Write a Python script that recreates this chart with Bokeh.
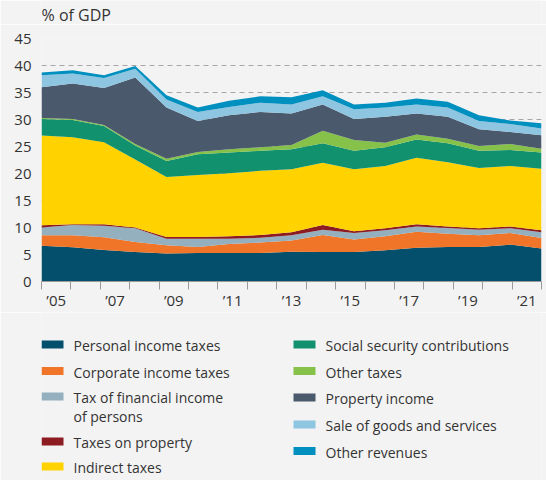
from bokeh.plotting import figure
from bokeh.models import Range1d, FixedTicker, LinearAxis, ColumnDataSource
from bokeh.layouts import column
from bokeh.embed import file_html
from bokeh.resources import INLINE
from bokeh.core.properties import value

years = list(range(2005, 2022))
tick_labels = ["\u201905", "\u201907", "\u201909", "\u201911", "\u201913", "\u201915", "\u201917", "\u201919", "\u201921"]

personal_income = [6.64, 6.33, 5.84, 5.47, 5.17, 5.29, 5.29, 5.29, 5.53, 5.47, 5.47, 5.78, 6.27, 6.40, 6.40, 6.83, 6.09]
corporate_income = [1.91, 2.22, 2.34, 1.85, 1.53, 1.11, 1.66, 1.91, 2.07, 3.13, 2.33, 2.58, 2.95, 2.46, 2.15, 2.17, 1.97]
financial_income = [1.45, 1.90, 2.15, 2.52, 1.20, 1.53, 0.98, 0.90, 0.95, 1.00, 1.18, 1.11, 0.98, 1.04, 1.05, 0.84, 1.04]
taxes_property = [0.40, 0.13, 0.25, 0.16, 0.34, 0.31, 0.43, 0.50, 0.55, 0.85, 0.32, 0.37, 0.38, 0.30, 0.24, 0.36, 0.37]
indirect_taxes = [16.66, 16.12, 15.22, 12.60, 11.13, 11.50, 11.69, 11.90, 11.70, 11.55, 11.50, 11.56, 12.32, 11.90, 11.16, 11.20, 11.43]
social_security = [3.01, 3.20, 3.00, 2.60, 2.93, 3.81, 3.85, 3.70, 3.70, 3.60, 3.40, 3.45, 3.40, 3.50, 3.20, 2.95, 3.00]
other_taxes = [0.23, 0.17, 0.17, 0.26, 0.45, 0.45, 0.60, 0.65, 0.80, 2.30, 2.00, 0.85, 0.90, 0.85, 0.90, 1.11, 0.70]
property_income = [5.68, 6.58, 6.88, 12.30, 9.45, 5.70, 6.30, 6.55, 5.80, 4.90, 3.90, 4.80, 3.90, 4.05, 3.10, 2.24, 2.50]
sale_goods = [2.22, 1.85, 1.85, 1.64, 1.50, 1.70, 1.50, 1.70, 1.70, 1.50, 1.80, 1.70, 1.70, 1.70, 1.50, 1.45, 1.25]
other_revenues = [0.50, 0.60, 0.50, 0.50, 0.80, 0.80, 1.15, 1.20, 1.30, 1.10, 0.90, 0.90, 1.10, 1.10, 1.10, 0.65, 0.95]

series_names = ["Personal income taxes", "Corporate income taxes", "Tax of financial income\nof persons",
                "Taxes on property", "Indirect taxes", "Social security contributions", "Other taxes",
                "Property income", "Sale of goods and services", "Other revenues"]
series_values = [personal_income, corporate_income, financial_income, taxes_property, indirect_taxes,
                 social_security, other_taxes, property_income, sale_goods, other_revenues]
colors = ["#044f6c", "#f07528", "#94afbe", "#8d1b22", "#ffd200", "#12916f", "#86c24a", "#4a596c", "#8ec5e1", "#0090c0"]
unit_label = "% of GDP"

BG = "#f3f3f3"
TXT = "#333333"
FONT = "Open Sans"

keys = ["s%d" % i for i in range(len(series_values))]
data = {"year": years}
for k, v in zip(keys, series_values):
    data[k] = v
src = ColumnDataSource(data)

W = 546
ML, MR = 41, 5
HH = 24          # header panel (unit label)
H1 = 288         # main chart panel
LH = 480 - HH - H1  # legend panel
YMAX = 45


def panel(height):
    f = figure(width=W, height=height, output_backend="svg", toolbar_location=None,
               x_range=Range1d(ML, W - MR), y_range=Range1d(height, 0),
               background_fill_color=BG, border_fill_color=BG, outline_line_color=None,
               min_border_left=ML, min_border_right=MR, min_border_top=0, min_border_bottom=0)
    f.axis.visible = False
    f.grid.visible = False
    return f


# header with the unit label
hd = panel(HH)
hd.text(x=[41], y=[14], text=[unit_label], text_font=value(FONT), text_font_size="16px",
        text_color=TXT, text_baseline="middle", text_align="left")

# main chart
p = figure(width=W, height=H1, output_backend="svg", toolbar_location=None,
           x_range=Range1d(years[0], years[-1]), y_range=Range1d(0, YMAX),
           x_axis_location=None, background_fill_color=BG, border_fill_color=BG,
           outline_line_color=None, min_border_left=ML, min_border_right=MR,
           min_border_top=14, min_border_bottom=30)

p.varea_stack(stackers=keys, x="year", color=colors, source=src)

p.xgrid.visible = False
p.ygrid.ticker = FixedTicker(ticks=list(range(0, YMAX + 5, 5)))
p.ygrid.grid_line_color = "#a6a6a6"
p.ygrid.grid_line_dash = "5 4"
p.ygrid.grid_line_width = 1

ya = p.yaxis[0]
ya.ticker = FixedTicker(ticks=list(range(0, YMAX + 5, 5)))
ya.axis_line_color = None
ya.major_tick_line_color = None
ya.minor_tick_line_color = None
ya.major_label_text_font = FONT
ya.major_label_text_font_size = "15px"
ya.major_label_text_color = TXT
ya.major_label_standoff = 4

n_bands = len(years)
p.extra_x_ranges = {"bands": Range1d(0, n_bands)}
label_pos = [i + 0.5 for i in range(0, n_bands, 2)]
xa = LinearAxis(x_range_name="bands",
                ticker=FixedTicker(ticks=label_pos, minor_ticks=list(range(0, n_bands + 1))))
xa.major_label_overrides = {pos: lab for pos, lab in zip(label_pos, tick_labels)}
xa.axis_line_color = "#9a9a9a"
xa.major_tick_line_color = None
xa.major_tick_out = 0
xa.major_tick_in = 0
xa.minor_tick_line_color = "#9a9a9a"
xa.minor_tick_out = 8
xa.minor_tick_in = 0
xa.major_label_text_font = FONT
xa.major_label_text_font_size = "15px"
xa.major_label_text_color = TXT
xa.major_label_standoff = 0
p.add_layout(xa, "below")

# legend panel
lg = panel(LH)
col_x = [41, 293]
rows_y = [[32, 58.5, 84, 129, 154], [32, 58.5, 85, 112, 138.5]]
sw_w, sw_h = 22, 8
idx = 0
for c in range(2):
    for ry in rows_y[c]:
        name = series_names[idx]
        lg.quad(left=col_x[c], right=col_x[c] + sw_w, top=ry - sw_h / 2, bottom=ry + sw_h / 2,
                color=colors[idx], line_color=None)
        lines = name.split("\n")
        for j, ln in enumerate(lines):
            lg.text(x=[col_x[c] + 32], y=[ry + 1 + j * 19], text=[ln], text_font=value(FONT),
                    text_font_size="14px", text_color=TXT, text_baseline="middle", text_align="left")
        idx += 1

layout = column(hd, p, lg, spacing=0)
open("out.html", "w").write(file_html(layout, INLINE))
